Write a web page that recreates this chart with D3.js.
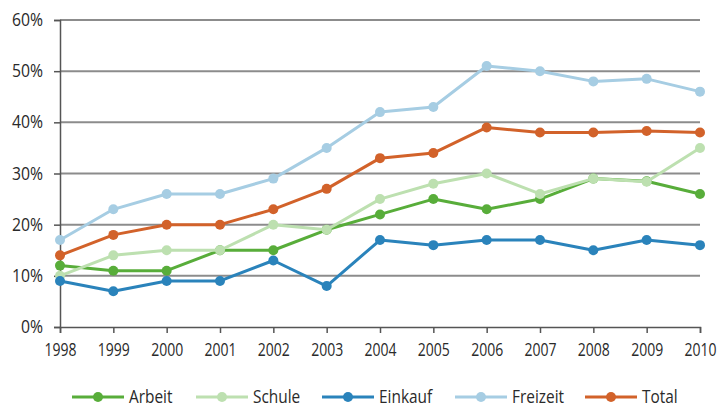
<!DOCTYPE html>
<html>
<head>
<meta charset="utf-8">
<script src="https://cdn.jsdelivr.net/npm/d3@7"></script>
<style>
  html, body { margin: 0; padding: 0; background: #fff; }
  svg text { font-family: "Open Sans", "Noto Sans", sans-serif; fill: #2a2a2a; }
</style>
</head>
<body>
<svg id="chart" width="718" height="405"></svg>
<script>
const years = [1998, 1999, 2000, 2001, 2002, 2003, 2004, 2005, 2006, 2007, 2008, 2009, 2010];
const arbeit  = [12, 11, 11, 15, 15, 19, 22, 25, 23, 25, 29, 28.5, 26];
const schule  = [10, 14, 15, 15, 20, 19, 25, 28, 30, 26, 29, 28.4, 35];
const einkauf = [9, 7, 9, 9, 13, 8, 17, 16, 17, 17, 15, 17, 16];
const freizeit = [17, 23, 26, 26, 29, 35, 42, 43, 51, 50, 48, 48.5, 46];
const total   = [14, 18, 20, 20, 23, 27, 33, 34, 39, 38, 38, 38.3, 38];
const seriesNames = ["Arbeit", "Schule", "Einkauf", "Freizeit", "Total"];
const seriesColors = ["#58ad3a", "#bde0b0", "#2a83bb", "#a6cde3", "#d2622a"];
const yTicks = [0, 10, 20, 30, 40, 50, 60];

const seriesData = [arbeit, schule, einkauf, freizeit, total];

const svg = d3.select("#chart");
const mLeft = 60, mRight = 700, mTop = 20, mBottom = 327;
const fs = 17.5;

function condense(sel, k) {
  sel.each(function() {
    const w = this.getComputedTextLength();
    d3.select(this).attr("textLength", w * k).attr("lengthAdjust", "spacingAndGlyphs");
  });
}

const x = d3.scalePoint().domain(years).range([mLeft, mRight]);
const y = d3.scaleLinear().domain([0, 60]).range([mBottom, mTop]);

// gridlines
svg.append("g").selectAll("line").data(yTicks.filter(d => d > 0)).join("line")
  .attr("x1", mLeft).attr("x2", mRight)
  .attr("y1", d => y(d)).attr("y2", d => y(d))
  .attr("stroke", "#8c8c8c").attr("stroke-width", 2);

// y axis
const yAxis = svg.append("g").attr("transform", `translate(${mLeft},0)`)
  .call(d3.axisLeft(y).tickValues(yTicks).tickFormat(d => d + "%").tickSize(6).tickPadding(11));
yAxis.select(".domain").attr("stroke", "#555").attr("stroke-width", 1.5);
yAxis.selectAll(".tick line").attr("stroke", "#555").attr("stroke-width", 1.5);
yAxis.selectAll(".tick text").attr("font-size", fs).attr("font-family", null).style("fill", "#2a2a2a");
condense(yAxis.selectAll(".tick text"), 0.9);

// x axis
const xAxis = svg.append("g").attr("transform", `translate(0,${mBottom})`)
  .call(d3.axisBottom(x).tickSize(6).tickPadding(11));
xAxis.select(".domain").attr("stroke", "#555").attr("stroke-width", 1.5);
xAxis.selectAll(".tick line").attr("stroke", "#555").attr("stroke-width", 1.5);
xAxis.selectAll(".tick text").attr("font-size", fs).attr("font-family", null).style("fill", "#2a2a2a");
condense(xAxis.selectAll(".tick text"), 0.8);

// lines
const line = d3.line().x((d, i) => x(years[i])).y(d => y(d));
seriesData.forEach((vals, si) => {
  const g = svg.append("g");
  g.append("path").datum(vals)
    .attr("d", line).attr("fill", "none")
    .attr("stroke", seriesColors[si]).attr("stroke-width", 3)
    .attr("stroke-linejoin", "round");
  g.selectAll("circle").data(vals).join("circle")
    .attr("cx", (d, i) => x(years[i])).attr("cy", d => y(d))
    .attr("r", 5).attr("fill", seriesColors[si]);
});

// legend
const legendX = [72, 196, 322, 455, 585];
const ly = 397;
const leg = svg.append("g");
seriesNames.forEach((name, i) => {
  const gx = legendX[i];
  leg.append("line").attr("x1", gx).attr("x2", gx + 52).attr("y1", ly).attr("y2", ly)
    .attr("stroke", seriesColors[i]).attr("stroke-width", 3);
  leg.append("circle").attr("cx", gx + 26).attr("cy", ly).attr("r", 5).attr("fill", seriesColors[i]);
  leg.append("text").attr("x", gx + 57).attr("y", ly).attr("dy", "0.35em")
    .attr("font-size", fs).text(name);
});
condense(leg.selectAll("text"), 0.88);
</script>
</body>
</html>
